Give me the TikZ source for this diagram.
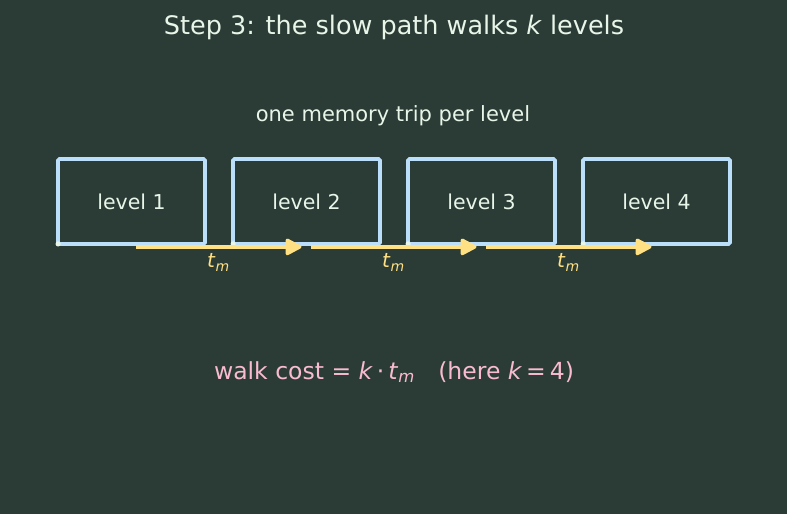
\documentclass[tikz,border=0pt]{standalone}
\usepackage{fontspec}
\setmainfont{DejaVu Sans}
\usetikzlibrary{arrows.meta}
\definecolor{bgcol}{RGB}{43,60,54}
\definecolor{txtcol}{RGB}{232,245,233}
\definecolor{boxcol}{RGB}{187,222,251}
\definecolor{tripcol}{RGB}{255,224,130}
\definecolor{costcol}{RGB}{248,187,208}
\newcommand{\tmem}{\textit{t}\textsubscript{\textit{m}}}
\begin{document}
\begin{tikzpicture}[x=1pt,y=-1pt,
  level/.style={draw=boxcol,line width=3.8pt,rounded corners=1.5pt,
    minimum width=147pt,minimum height=85pt,text=txtcol,
    font=\fontsize{20.5}{24}\selectfont},
  trip/.style={-{Triangle[round,length=18pt,width=18pt]},tripcol,line width=3.4pt},
  tlabel/.style={text=tripcol,font=\fontsize{20}{24}\selectfont}]
  \fill[bgcol] (0,0) rectangle (787,514);
  \node[text=txtcol,font=\fontsize{25.5}{30}\selectfont] (title) at (394,27)
    {Step 3: the slow path walks \textit{k} levels};
  \node[text=txtcol,font=\fontsize{21}{25}\selectfont] (sub) at (393,116)
    {one memory trip per level};
  % the k levels
  \foreach \i in {1,...,4} {
    \node[level] (lv\i) at ({131.5+175*(\i-1)},201.5) {level \i};
    \fill[txtcol] ([xshift=2pt,yshift=2pt]lv\i.south west) circle (2.6pt);
  }
  % one trip from each level to the next
  \foreach \i/\j in {1/2,2/3,3/4} {
    \draw[trip] ([xshift=4pt,yshift=-1pt]lv\i.south) --
      node[tlabel,below=2pt] {\tmem} ([xshift=-5pt,yshift=-1pt]lv\j.south);
  }
  \node[text=costcol,font=\fontsize{23.5}{28}\selectfont] (cost) at (394,372)
    {walk cost = \textit{k}\,·\,\tmem\quad(here \textit{k}\,=\,4)};
\end{tikzpicture}
\end{document}
